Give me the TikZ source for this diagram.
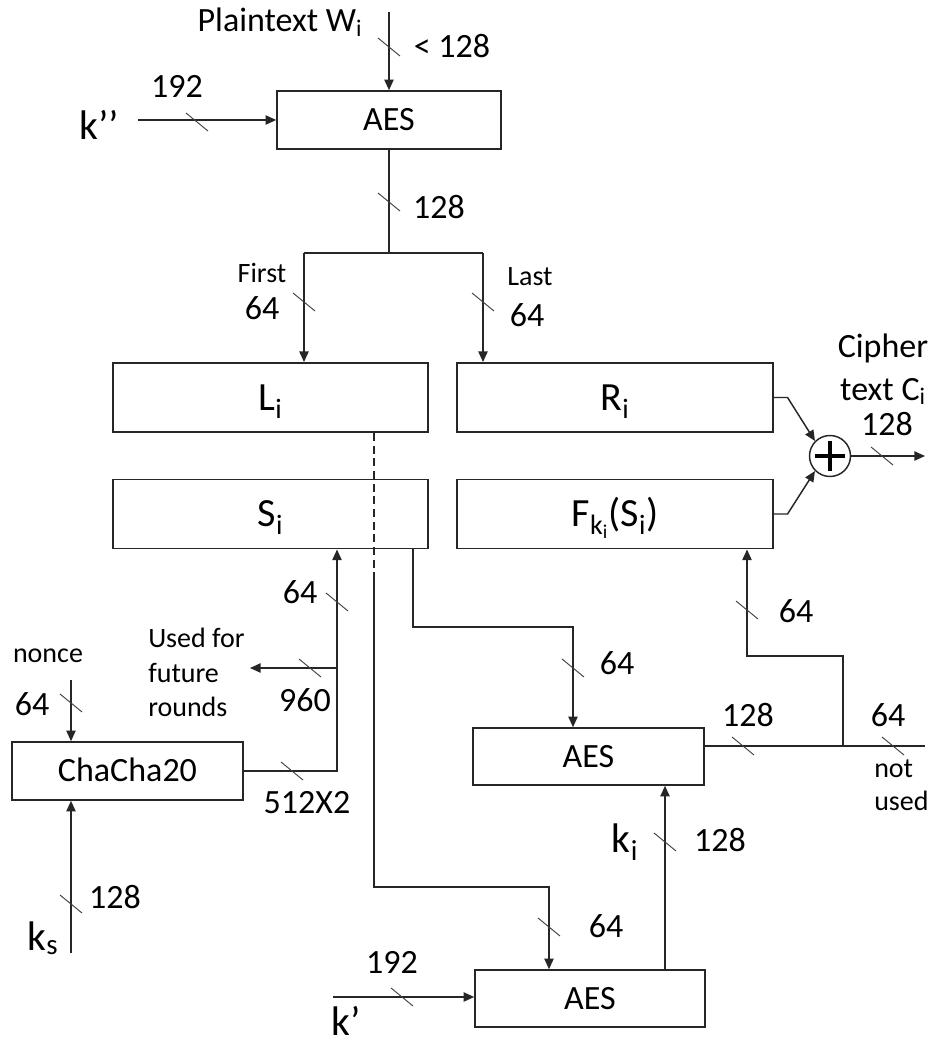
\documentclass[tikz,border=0pt]{standalone}
\usepackage{fontspec}
\setmainfont{Carlito}
\usetikzlibrary{arrows.meta,calc}
\newcommand\mainfnt{\fontsize{25.5}{30}\selectfont}
\newcommand\bigfnt{\fontsize{30}{36}\selectfont}
\newcommand\smallfnt{\fontsize{21}{25}\selectfont}
\newcommand\kfnt{\fontsize{31}{36}\selectfont}
\newcommand\tk[1]{\draw[tickline] #1 ++(-11,-9) -- ++(22,18);}
\tikzset{
  wire/.style={line width=1.1pt, draw=black!85},
  arr/.style={wire, -{Triangle[length=8pt,width=7pt]}},
  blk/.style={draw=black!85, line width=1.2pt, inner sep=0pt, text height=16.3pt, text depth=0pt, font=\mainfnt},
  regblk/.style={blk, font=\bigfnt, text height=19.2pt, minimum width=236.6pt, minimum height=52pt},
  tickline/.style={line width=0.7pt, draw=black!75},
  lbl/.style={inner sep=0pt, font=\mainfnt, anchor=base},
  small/.style={inner sep=0pt, font=\smallfnt, anchor=base},
  klbl/.style={inner sep=0pt, font=\kfnt, anchor=base},
  dline/.style={wire, dash pattern=on 6pt off 3.5pt},
}
\begin{document}
\begin{tikzpicture}[x=0.75pt,y=-0.75pt]
\useasboundingbox (0,0) rectangle (937,1045);
% blocks
\node[blk, minimum width=168pt, minimum height=43.5pt] (aes1) at (389,120) {AES};
\node[regblk] (L) at (270.5,397.5) {L\textsubscript{i}};
\node[regblk] (R) at (615,397.5) {R\textsubscript{i}};
\node[regblk] (S) at (270.5,514) {S\textsubscript{i}};
\node[regblk] (F) at (615,514) {F\textsubscript{k\textsubscript{i}}(S\textsubscript{i})};
\node[blk, minimum width=173.25pt, minimum height=43.5pt] (chacha) at (127.5,771) {ChaCha20};
\node[blk, minimum width=173.25pt, minimum height=42.75pt] (aes2) at (588.5,756.5) {AES};
\node[blk, minimum width=172.5pt, minimum height=42.75pt] (aes3) at (590,998.5) {AES};
\node[circle, draw=black!85, line width=1.1pt, minimum size=30.75pt, inner sep=0pt] (xor) at (830,456) {};
\draw[line width=2.6pt] (xor.center) ++(-15,0) -- ++(30,0);
\draw[line width=2.6pt] (xor.center) ++(0,-15) -- ++(0,30);

% coordinates
\coordinate (ptop) at (389,12);
\coordinate (kpp) at (138,120);
\coordinate (jl) at (304,253);
\coordinate (jr) at (483,253);
\coordinate (dx) at (374,580);
\coordinate (b1) at (549,887);
\coordinate (s1) at (413,627);
\coordinate (s2) at (573,627);
\coordinate (c1) at (337,771);
\coordinate (c2) at (337,668);
\coordinate (uf) at (250,668);
\coordinate (nn) at (71,680);
\coordinate (ks) at (71,953);
\coordinate (kp) at (333,997);
\coordinate (ki) at (665,900);
\coordinate (o1) at (843,746);
\coordinate (oend) at (925,746);
\coordinate (o2) at (747,656);
\coordinate (cout) at (925,456);

% connectors
\draw[arr] (ptop) -- (ptop |- aes1.north);
\draw[arr] (kpp) -- (aes1.west);
\draw[wire] (aes1.south) -- (aes1.south |- jl);
\draw[wire] (jl) -- (jr);
\draw[arr] (jl) -- (jl |- L.north);
\draw[arr] (jr) -- (jr |- R.north);
\draw[dline] (dx |- L.south) -- (dx);
\draw[arr] (dx) |- (b1) -- (b1 |- aes3.north);
\draw[arr] (s1 |- S.south) -- (s1) -- (s2) -- (s2 |- aes2.north);
\draw[arr] (chacha.east) -- (c1) -- (c1 |- S.south);
\draw[arr] (c2) -- (uf);
\draw[arr] (nn) -- (nn |- chacha.north);
\draw[arr] (ks) -- (ks |- chacha.south);
\draw[arr] (kp) -- (aes3.west |- kp);
\draw[arr] (ki |- aes3.north) -- (ki |- aes2.south);
\draw[wire] (o1 -| aes2.east) -- (oend);
\draw[arr] (o1) |- (o2) -- (o2 |- F.south);
\draw[arr] (R.east) -- ++(14,0) -- (xor.north west);
\draw[arr] (F.east) -- ++(14,0) -- (xor.south west);
\draw[arr] (xor.east) -- (cout);

% bus-width ticks
\tk{(389,47)}
\tk{(197,122)}
\tk{(389,202)}
\tk{(304,302)}
\tk{(483,302)}
\tk{(337,602)}
\tk{(310,668)}
\tk{(292,771)}
\tk{(71,703)}
\tk{(71,904)}
\tk{(573,668)}
\tk{(747,610)}
\tk{(743,746)}
\tk{(893,746)}
\tk{(665,842)}
\tk{(549,927)}
\tk{(402,997)}
\tk{(882,456)}

% labels
\node[lbl] (tpl) at (280,32) {Plaintext W\textsubscript{i}};
\node[lbl] (t128a) at (452,58) {< 128};
\node[lbl] (t192a) at (177,98) {192};
\node[klbl] (tkpp) at (99,140) {k’’};
\node[lbl] (t128b) at (439,218) {128};
\node[small] (tfirst) at (262,282) {First};
\node[lbl] (t64a) at (262,319) {64};
\node[small] (tlast) at (530,285) {Last};
\node[lbl] (t64b) at (527,326) {64};
\node[lbl] (tciph1) at (883,357) {Cipher};
\node[lbl] (tciph2) at (883,400) {text C\textsubscript{i}};
\node[lbl] (t128c) at (887,435) {128};
\node[lbl] (t64c) at (300,603) {64};
\node[small, anchor=base west] (tuf1) at (148,647) {Used for};
\node[small, anchor=base west] (tuf2) at (148,682) {future};
\node[small, anchor=base west] (tuf3) at (148,716) {rounds};
\node[lbl] (t960) at (305,711) {960};
\node[small] (tnonce) at (48,662) {nonce};
\node[lbl] (t64d) at (32,715) {64};
\node[lbl] (t512) at (307,813) {512X2};
\node[lbl] (t128d) at (115,908) {128};
\node[klbl] (tks) at (43,950) {k\textsubscript{s}};
\node[lbl] (t64e) at (617,674) {64};
\node[lbl] (t64f) at (796,622) {64};
\node[lbl] (t128e) at (748,726) {128};
\node[lbl] (t64g) at (888,726) {64};
\node[small, anchor=base west] (tnot) at (874,777) {not};
\node[small, anchor=base west] (tused) at (874,810) {used};
\node[lbl] (t128f) at (720,851) {128};
\node[klbl] (tki) at (625,852) {k\textsubscript{i}};
\node[lbl] (t64h) at (606,937) {64};
\node[lbl] (t192b) at (392,973) {192};
\node[klbl] (tkp) at (346,1035) {k’};
\end{tikzpicture}
\end{document}
